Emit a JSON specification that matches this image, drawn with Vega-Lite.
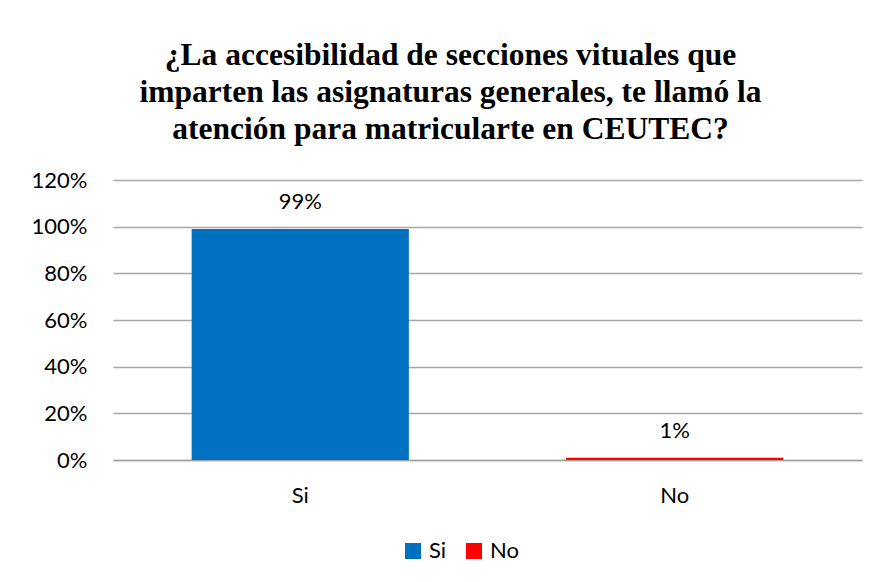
{
  "$schema": "https://vega.github.io/schema/vega-lite/v6.json",
  "autosize": {"type": "none"},
  "width": 749,
  "height": 280,
  "padding": {"left": 113, "top": 180, "right": 20, "bottom": 122},
  "background": "white",
  "title": {
    "text": ["¿La accesibilidad de secciones vituales que", "imparten las asignaturas generales, te llamó la", "atención para matricularte en CEUTEC?"],
    "font": "Liberation Serif",
    "fontSize": 31.5,
    "fontWeight": "bold",
    "lineHeight": 37,
    "color": "#000000",
    "anchor": "middle",
    "dx": -37,
    "offset": 24
  },
  "data": {"values": [
    {"respuesta": "Si", "porcentaje": 0.99, "etiqueta": "99%"},
    {"respuesta": "No", "porcentaje": 0.01, "etiqueta": "1%"}
  ]},
  "encoding": {
    "x": {"field": "respuesta", "type": "nominal", "sort": ["Si", "No"],
      "scale": {"paddingInner": 0.42, "paddingOuter": 0.21},
      "axis": {"title": null, "labelAngle": 0, "labelFont": "Lato", "labelFontSize": 22, "labelColor": "#000000", "labelPadding": 25, "ticks": false, "domainColor": "#a6a6a6", "domainWidth": 1.5}},
    "y": {"field": "porcentaje", "type": "quantitative",
      "scale": {"domain": [0, 1.2]},
      "axis": {"title": null, "format": ".0%", "values": [0, 0.2, 0.4, 0.6, 0.8, 1.0, 1.2], "labelFont": "Lato", "labelFontSize": 22, "labelColor": "#000000", "labelPadding": 26, "ticks": false, "domain": false, "gridColor": "#a6a6a6", "gridWidth": 1.5}}
  },
  "layer": [
    {
      "mark": {"type": "bar"},
      "encoding": {
        "color": {"field": "respuesta", "type": "nominal", "sort": ["Si", "No"],
          "scale": {"domain": ["Si", "No"], "range": ["#0070C0", "#FF0000"]},
          "legend": {"title": null, "orient": "none", "legendX": 289, "legendY": 360, "direction": "horizontal", "symbolType": "square", "symbolSize": 256, "symbolStrokeWidth": 0, "labelFont": "Lato", "labelFontSize": 22, "labelColor": "#000000", "columnPadding": 16, "labelOffset": 5}}
      }
    },
    {
      "mark": {"type": "text", "font": "Lato", "fontSize": 22, "color": "#000000", "baseline": "middle", "dy": -27},
      "encoding": {"text": {"field": "etiqueta"}}
    }
  ],
  "config": {"view": {"stroke": null}}
}
